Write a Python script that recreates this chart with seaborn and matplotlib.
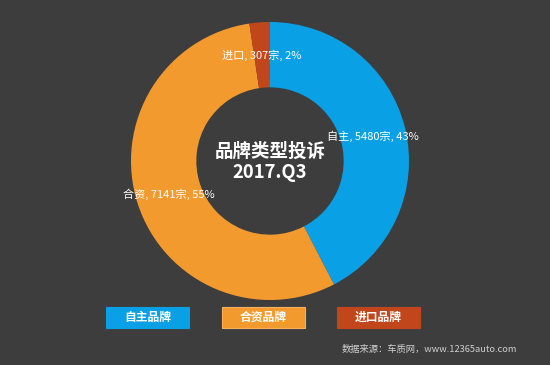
import numpy as np
import matplotlib
matplotlib.use("Agg")
import matplotlib.pyplot as plt
from matplotlib.patches import Rectangle
import seaborn as sns

# ---- data ----
categories = ["自主", "合资", "进口"]
legend_labels = ["自主品牌", "合资品牌", "进口品牌"]
counts = [5480, 7141, 307]
pct_labels = ["43%", "55%", "2%"]
title_lines = ["品牌类型投诉", "2017.Q3"]
source_text = "数据来源：车质网，www.12365auto.com"

colors = ["#0aa0e6", "#f39a2e", "#c2461b"]
bg = "#3d3d3d"

sns.set_style("white")
plt.rcParams['font.family'] = ['Noto Sans CJK SC', 'DejaVu Sans']

W, H = 550, 365
fig = plt.figure(figsize=(W / 100, H / 100), dpi=100, facecolor=bg)
ax = fig.add_axes([0, 0, 1, 1])
ax.set_facecolor(bg)

cx, cy, R = 270, H - 161, 139
ring_w = 0.47
wedges, _ = ax.pie(counts, colors=colors, startangle=90, counterclock=False,
                   center=(cx, cy), radius=R, frame=True,
                   wedgeprops=dict(width=R * ring_w, linewidth=0))
ax.set_xlim(0, W)
ax.set_ylim(0, H)
ax.set_aspect('equal')
ax.axis('off')

# slice labels at mid-ring
rmid = R * (1 - ring_w / 2)
for w, cat, n, p in zip(wedges, categories, counts, pct_labels):
    ang = np.deg2rad((w.theta1 + w.theta2) / 2)
    x = cx + rmid * np.cos(ang)
    y = cy + rmid * np.sin(ang)
    ax.text(x, y, f"{cat}, {n}宗, {p}", ha="center", va="center",
            color="white", fontsize=8.0)

# center title
ax.text(cx, cy + 10, title_lines[0], ha="center", va="center",
        color="white", fontsize=13.3, fontweight="bold")
ax.text(cx, cy - 11, title_lines[1], ha="center", va="center",
        color="white", fontsize=13.3, fontweight="bold")

# legend boxes
box_x0, box_w, box_gap, box_y, box_h = 106, 83, 32.5, H - 328, 21
for i, (lab, c) in enumerate(zip(legend_labels, colors)):
    x0 = box_x0 + i * (box_w + box_gap)
    ax.add_patch(Rectangle((x0, box_y), box_w, box_h, facecolor=c,
                           edgecolor="#f6b060" if i == 1 else c, linewidth=0.8))
    ax.text(x0 + box_w / 2, box_y + box_h / 2, lab, ha="center", va="center",
            color="white", fontsize=8.5, fontweight="bold")

ax.text(342, H - 349, source_text, ha="left", va="center",
        color="#d0d0d0", fontsize=6.7)

fig.savefig("out.png", dpi=100, facecolor=bg)
